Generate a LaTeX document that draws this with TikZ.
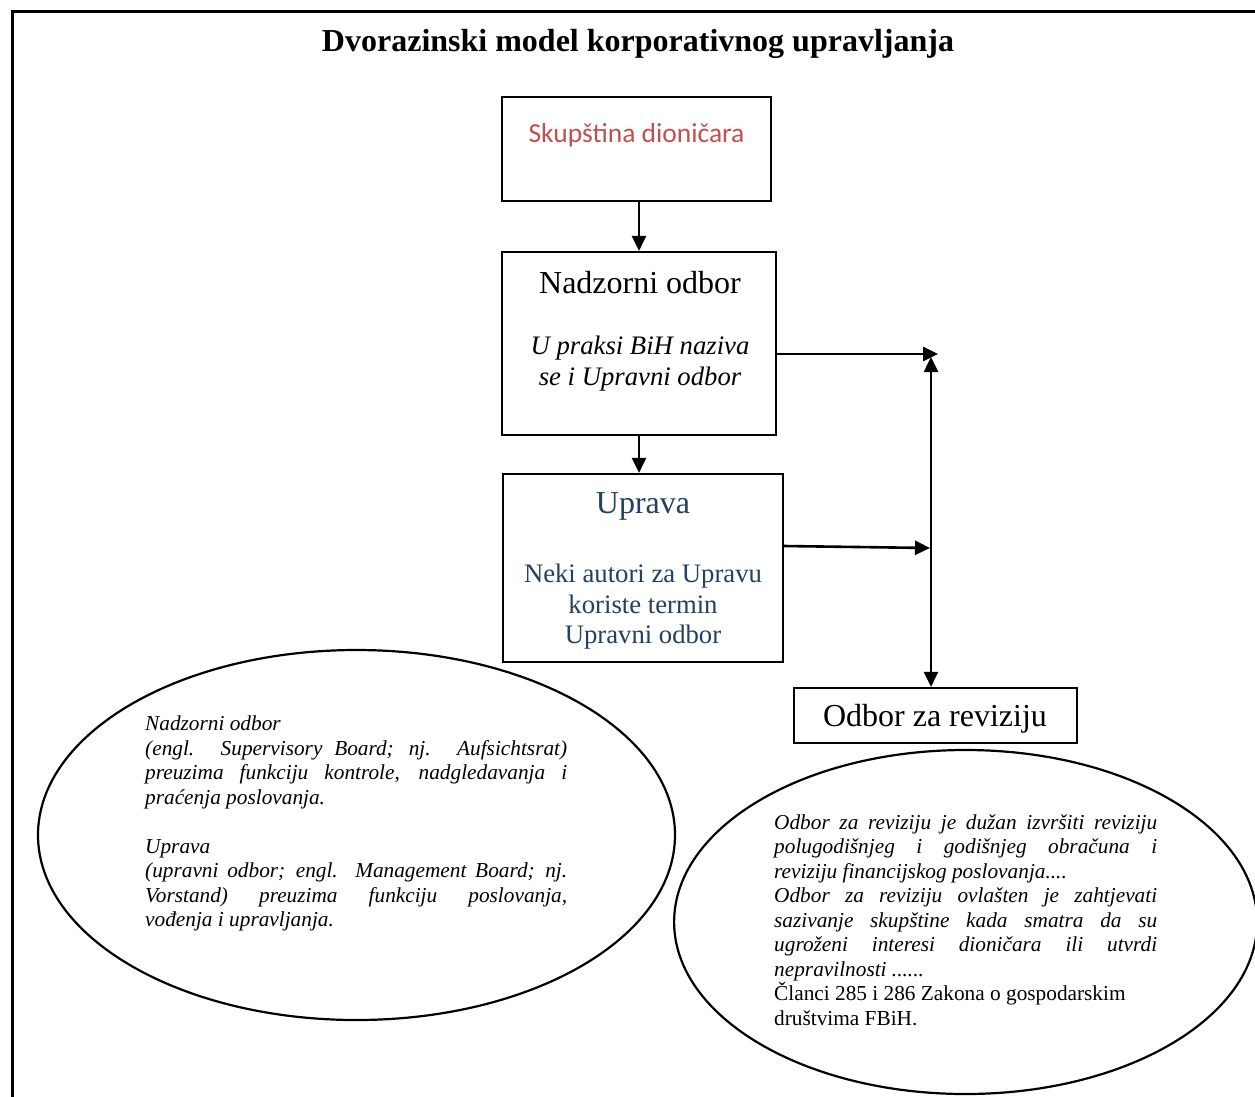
\documentclass[tikz,border=0pt]{standalone}
\usepackage{fontspec}
\setmainfont{Liberation Serif}
\newfontfamily\calib{Carlito}
\usetikzlibrary{arrows.meta,shapes.geometric}
\definecolor{skupred}{RGB}{192,80,77}
\definecolor{upnavy}{RGB}{36,64,97}
\tikzset{
  boxnode/.style={draw,line width=2.2pt,inner sep=0pt},
  conn/.style={line width=2.6pt,-{Triangle[length=15pt,width=14pt]}},
  ellnode/.style={draw,ellipse,line width=2.2pt,inner sep=0pt},
  txt/.style={inner sep=0pt,align=center},
}
\begin{document}
\begin{tikzpicture}[x=1pt,y=-1pt]
\useasboundingbox (0,0) rectangle (1255,1096);
\fill[white] (0,0) rectangle (1255,1096);
% frame
\draw[line width=3pt] (12,1110) -- (12,11) -- (1265,11);
% title
\node[txt,font=\fontsize{32}{36}\selectfont\bfseries] (title) at (638,44) {Dvorazinski model korporativnog upravljanja};
% boxes
\node[boxnode,minimum width=269pt,minimum height=104pt] (skup) at (636.5,149) {};
\node[boxnode,minimum width=274pt,minimum height=183pt] (nad) at (639,343.5) {};
\node[boxnode,minimum width=280pt,minimum height=188pt] (upr) at (643,568) {};
\node[boxnode,minimum width=283pt,minimum height=55pt] (odb) at (935.5,715.5) {};
% box texts
\node[txt,text=skupred,font=\calib\fontsize{27.5}{32}\selectfont] (skupt) at (636.5,135) {Skupština dioničara};
\node[txt,font=\fontsize{32}{36}\selectfont] (nadt) at (640,283) {Nadzorni odbor};
\node[txt,font=\fontsize{26.7}{31}\selectfont\itshape] (nadi) at (640,364) {U praksi BiH naziva\\se i Upravni odbor};
\node[txt,text=upnavy,font=\fontsize{32}{36}\selectfont] (uprt) at (643,506) {Uprava};
\node[txt,text=upnavy,font=\fontsize{26.7}{30.5}\selectfont] (upri) at (643,607) {Neki autori za Upravu\\koriste termin\\Upravni odbor};
\node[txt,font=\fontsize{32}{36}\selectfont] (odbt) at (935,719) {Odbor za reviziju};
% connector points
\coordinate (t1) at (938,354);
\coordinate (t2) at (931,357);
\coordinate (t3) at (930,548);
% connectors
\draw[conn] (skup.south -| nad.north) -- (nad.north);
\draw[conn] (nad.south) -- (nad.south |- upr.north);
\draw[conn] (nad.east |- t1) -- (t1);
\draw[conn] ([yshift=22pt]upr.east) -- (t3);
\draw[line width=2.6pt,{Triangle[length=15pt,width=14pt]}-{Triangle[length=15pt,width=14pt]}] (t2) -- (t2 |- odb.north);
% ellipses
\node[ellnode,minimum width=637pt,minimum height=370pt] (e1) at (356.5,835) {};
\node[ellnode,minimum width=583pt,minimum height=344pt] (e2) at (965.6,922) {};
% ellipse texts
\node[inner sep=0pt,anchor=north west,text width=422pt,align=justify,font=\fontsize{21.3}{24.5}\selectfont\itshape] (e1t) at (145,716) {%
Nadzorni odbor\\
(engl. Supervisory Board; nj. Aufsichtsrat)\linebreak preuzima funkciju kontrole, nadgledavanja i\linebreak praćenja poslovanja.\\[24.5pt]
Uprava\\
(upravni odbor; engl. Management Board; nj.\linebreak Vorstand) preuzima funkciju poslovanja,\linebreak vođenja i upravljanja.};
\node[inner sep=0pt,anchor=north west,text width=383pt,align=justify,font=\fontsize{21.3}{24.5}\selectfont\itshape] (e2t) at (774,814) {%
Odbor za reviziju je dužan izvršiti reviziju\linebreak polugodišnjeg i godišnjeg obračuna i\linebreak reviziju financijskog poslovanja....\\
Odbor za reviziju ovlašten je zahtjevati\linebreak sazivanje skupštine kada smatra da su\linebreak ugroženi interesi dioničara ili utvrdi\linebreak nepravilnosti ......\\
{\upshape Članci 285 i 286 Zakona o gospodarskim}\\
{\upshape društvima FBiH.}};
\end{tikzpicture}
\end{document}
